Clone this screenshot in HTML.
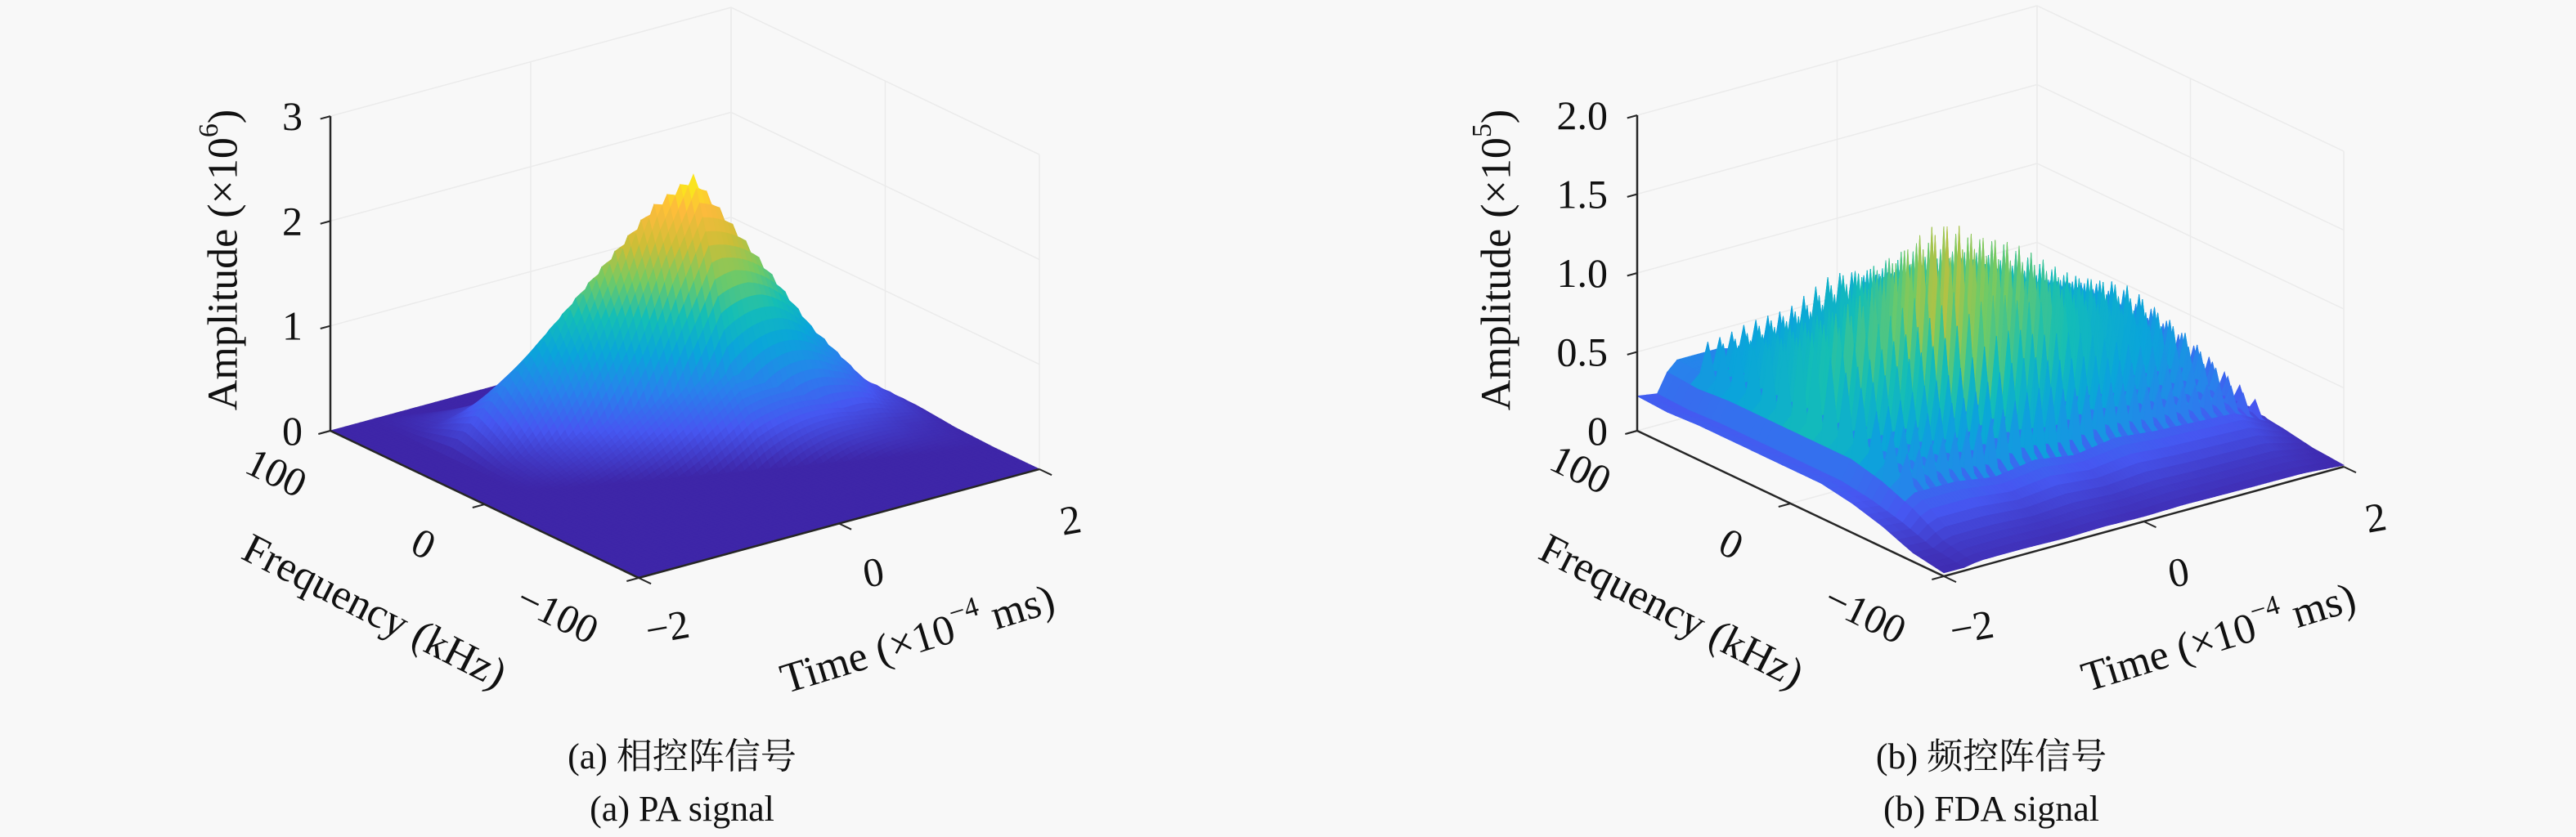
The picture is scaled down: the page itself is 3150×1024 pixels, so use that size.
<!DOCTYPE html>
<html><head><meta charset="utf-8"><style>
html,body{margin:0;padding:0;background:#f8f8f8;}
svg{display:block;}
text{font-family:"Liberation Serif","DejaVu Serif","Noto Serif CJK SC",serif;}
</style></head><body>
<svg id="fig" width="3150" height="1024" viewBox="0 0 3150 1024" xmlns="http://www.w3.org/2000/svg" font-family="Liberation Serif, DejaVu Serif, Noto Serif CJK SC, serif">
<rect x="0" y="0" width="3150" height="1024" fill="#f8f8f8"/>
<g id="panelA"></g>
<g id="panelB"></g>
<text x="834" y="940" font-size="44" text-anchor="middle" fill="#111">(a) 相控阵信号</text>
<text x="834" y="1004" font-size="44" text-anchor="middle" fill="#111">(a) PA signal</text>
<text x="2435" y="940" font-size="44" text-anchor="middle" fill="#111">(b) 频控阵信号</text>
<text x="2435" y="1004" font-size="44" text-anchor="middle" fill="#111">(b) FDA signal</text>
</svg>
<script>
// ---- PA data (amplitude ×10^6) ----
const paTimes = [-2, -1.6, -1.2, -0.8, -0.4, 0, 0.3, 0.8, 1.2, 1.6, 2];
const paTimeProfile = [0, 0, 0.55, 1.1, 1.65, 2.2, 2.45, 1.6, 0.9, 0.35, 0.05];
const paFreqOffsets = [-50, -25, -10, 0, 10, 25, 50];
const paFreqProfile = [0, 0.3, 0.75, 1, 0.75, 0.3, 0];
const paRidgeCenterAt0 = 20;   // kHz
const paRidgeSlope = -20;      // kHz per time unit
// ---- FDA data (amplitude ×10^5) ----
const fdaTimes = [-2, -1.8, -1.65, -1.2, -0.8, -0.4, 0, 0.4, 0.8, 1.2, 1.6, 2];
const fdaBaseT = [0.22, 0.2, 0.38, 0.38, 0.32, 0.38, 0.32, 0.38, 0.34, 0.32, 0.3, 0.1];
const fdaFreqs = [-100, -80, -60, -40, -20, 0, 20, 40, 60, 80, 100];
const fdaBaseF = [0.1, 0.25, 0.6, 0.85, 1, 1, 1, 1, 1, 0.95, 1];
const fdaToothAmp = [0.5,0.52,0.55,0.6,0.65,0.7,0.75,0.8,0.85,0.9,0.95,1.0,1.0,0.95,0.9,0.85,0.8,0.75,0.7,0.65,0.6,0.55,0.5,0.48,0.45,0.42,0.4,0.35,0.3,0.25];
const fdaRowFreqs = [80, 70, 60, 50, 40, 30, 20, 10, 0, -10, -20, -30, -40, -50];
const fdaRowAmp = [0.45, 0.5, 0.55, 0.65, 0.75, 0.85, 1.0, 1.05, 0.95, 0.85, 0.75, 0.6, 0.5, 0.4];
const fdaToothStart = -1.6, fdaToothEnd = 2;
const toothShape = [1, 0.1, 0, 0.1];
// ---- axis ticks ----
const freqTicks = [100, 0, -100];
const freqTickLabels = ["100", "0", "\u2212100"];
const timeTicks = [-2, 0, 2];
const timeTickLabels = ["\u22122", "0", "2"];
const paZTicks = [0, 1, 2, 3];
const paZTickLabels = ["0", "1", "2", "3"];
const fdaZTicks = [0, 0.5, 1.0, 1.5, 2.0];
const fdaZTickLabels = ["0", "0.5", "1.0", "1.5", "2.0"];

const NS = "http://www.w3.org/2000/svg";
const FONT = "Liberation Serif, DejaVu Serif, Noto Serif CJK SC, serif";
function interp(xs, ys, x){
  if (x <= xs[0]) return ys[0];
  for (let i=1;i<xs.length;i++){ if (x <= xs[i]) { const r=(x-xs[i-1])/(xs[i]-xs[i-1]); return ys[i-1]+r*(ys[i]-ys[i-1]); } }
  return ys[ys.length-1];
}
const PAR = [[0,[62,38,168]],[0.13,[70,87,241]],[0.25,[40,130,236]],[0.375,[10,165,218]],[0.5,[20,190,182]],[0.625,[115,202,100]],[0.75,[205,190,55]],[0.875,[253,187,60]],[1,[249,251,14]]];
function parula(x){
  x=Math.max(0,Math.min(1,x));
  for(let i=1;i<PAR.length;i++){ if(x<=PAR[i][0]){ const a=PAR[i-1],b=PAR[i]; const r=(x-a[0])/(b[0]-a[0]);
    return "rgb("+[0,1,2].map(k=>Math.round(a[1][k]+r*(b[1][k]-a[1][k]))).join(",")+")"; } }
  return "rgb(249,251,14)";
}
function mk(tag, attrs, parent){ const e=document.createElementNS(NS,tag); for(const k in attrs) e.setAttribute(k,attrs[k]); parent.appendChild(e); return e; }

function drawPanel(g, cfg){
  const P=(f,t,z)=>{ const u=(f+100)/200, v=(t+2)/4;
    return [cfg.F[0]+u*(cfg.L[0]-cfg.F[0])+v*(cfg.R[0]-cfg.F[0]), cfg.F[1]+u*(cfg.L[1]-cfg.F[1])+v*(cfg.R[1]-cfg.F[1])-z*cfg.zs]; };
  const line=(a,b,stroke,w,name)=>{ const l=mk("line",{x1:a[0],y1:a[1],x2:b[0],y2:b[1],stroke:stroke,"stroke-width":w},g);
    
     return l; };
  const gc="#ebebeb";
  cfg.zTicks.forEach(z=>{ line(P(100,-2,z),P(100,2,z),gc,1.5,'z-gridline'); line(P(100,2,z),P(-100,2,z),gc,1.5,'z-gridline'); });
  timeTicks.forEach(t=>{ line(P(100,t,0),P(100,t,cfg.zMax),gc,1.5,'time-gridline'); line(P(100,t,0),P(-100,t,0),gc,1.5,'time-gridline'); });
  freqTicks.forEach(f=>{ line(P(f,2,0),P(f,2,cfg.zMax),gc,1.5,'freq-gridline'); line(P(f,-2,0),P(f,2,0),gc,1.5,'freq-gridline'); });
  const ts=cfg.tGrid, fs=cfg.fGrid, Z=[];
  for(let i=0;i<fs.length;i++){ Z.push([]); for(let j=0;j<ts.length;j++) Z[i].push(cfg.zf(fs[i],ts[j])); }
  const cells=[];
  for(let i=0;i<fs.length-1;i++) for(let j=0;j<ts.length-1;j++){
    const u=(fs[i]+fs[i+1])/2, v=(ts[j]+ts[j+1])/2;
    cells.push([(u+100)/200+(v+2)/4, i, j]);
  }
  cells.sort((a,b)=>b[0]-a[0]);
  const sg=mk("g",{},g);
  
  
  let html="";
  cells.forEach(c=>{ const i=c[1], j=c[2];
    const z4=[Z[i][j],Z[i+1][j],Z[i+1][j+1],Z[i][j+1]];
    const pts=[P(fs[i],ts[j],z4[0]),P(fs[i+1],ts[j],z4[1]),P(fs[i+1],ts[j+1],z4[2]),P(fs[i],ts[j+1],z4[3])];
    const zc = (z4[0]+z4[1]+z4[2]+z4[3])/4 + (cfg.colorBoost||0)*(Math.max(...z4)-(z4[0]+z4[1]+z4[2]+z4[3])/4);
    const col=parula(zc/cfg.cmax);
    html+='<polygon points="'+pts.map(p=>p[0].toFixed(1)+","+p[1].toFixed(1)).join(" ")+'" fill="'+col+'" stroke="'+col+'" stroke-width="0.8"/>';
  });
  sg.innerHTML=html;
  const ac="#262626";
  line(P(100,-2,0),P(100,-2,cfg.zMax),ac,2.5,'z-axis-line');
  line(P(100,-2,0),P(-100,-2,0),ac,2.5,'frequency-axis-line');
  line(P(-100,-2,0),P(-100,2,0),ac,2.5,'time-axis-line');
  const txt=(x,y,s,size,anchor,rot,name)=>{ const e=mk("text",{x:x,y:y,"font-size":size,"font-family":FONT,"text-anchor":anchor,"dominant-baseline":"central",fill:"#111"},g);
    if(rot) e.setAttribute("transform","rotate("+rot+" "+x+" "+y+")");
    e.textContent=s;
    
     return e; };
  cfg.zTicks.forEach((z,k)=>{ const p=P(100,-2,z); line(p,P(100,-2.1,z),ac,2,'z-tick'); txt(cfg.zLabX,p[1],cfg.zLabels[k],50,"end",0,'z-tick-label'); });
  freqTicks.forEach((f,k)=>{ const p=P(f,-2,0); line(p,P(f,-2.12,0),ac,2,'freq-tick'); txt(cfg.fLab[k][0],cfg.fLab[k][1],freqTickLabels[k],50,"middle",26,'freq-tick-label'); });
  timeTicks.forEach((t,k)=>{ const p=P(-100,t,0); line(p,P(-108,t,0),ac,2,'time-tick'); txt(cfg.tLab[k][0],cfg.tLab[k][1],timeTickLabels[k],50,"middle",-10,'time-tick-label'); });
  const at=txt(cfg.ampTitle[0],cfg.ampTitle[1],"",52,"middle",-90,'z-axis-title');
  at.innerHTML='Amplitude (×10<tspan dy="-18" font-size="34">'+cfg.exp+'</tspan><tspan dy="18">)</tspan>';
  txt(cfg.fTitle[0],cfg.fTitle[1],"Frequency (kHz)",52,"middle",27,'frequency-axis-title');
  const tt=txt(cfg.tTitle[0],cfg.tTitle[1],"",52,"middle",-17,'time-axis-title');
  tt.innerHTML='Time (×10<tspan dy="-18" font-size="34">−4</tspan><tspan dy="18"> ms)</tspan>';
}
function range(a,b,n){ const r=[]; for(let i=0;i<=n;i++) r.push(a+(b-a)*i/n); return r; }

drawPanel(document.getElementById("panelA"),{
  L:[404,527], F:[781,707], R:[1271,574], zs:128.3, zMax:3, cmax:2.45,
  zTicks:paZTicks, zLabels:paZTickLabels, zLabX:370, exp:"6",
  tGrid:range(-2,2,80), fGrid:range(-100,100,100),
  zf:(f,t)=>interp(paTimes,paTimeProfile,t)*interp(paFreqOffsets,paFreqProfile,f-(paRidgeCenterAt0+paRidgeSlope*t)),
  fLab:[[338,578],[518,665],[682,751]], tLab:[[816,767],[1068,700],[1309,636]],
  ampTitle:[273,318], fTitle:[458,748], tTitle:[1122,782]
});
const fdaPer=(fdaToothEnd-fdaToothStart)/fdaToothAmp.length, fdaStep=fdaPer/toothShape.length;
const fdaT=[-2,-1.9,-1.8,-1.7];
for(let k=0;k<=fdaToothAmp.length*toothShape.length;k++) fdaT.push(fdaToothStart+k*fdaStep);
drawPanel(document.getElementById("panelB"),{
  L:[2002,527], F:[2377,705], R:[2866,571], zs:193, zMax:2.0, cmax:1.45, colorBoost:0.5,
  zTicks:fdaZTicks, zLabels:fdaZTickLabels, zLabX:1966, exp:"5",
  tGrid:fdaT, fGrid:range(-100,100,40),
  zf:(f,t)=>{ let z=interp(fdaTimes,fdaBaseT,t)*interp(fdaFreqs,fdaBaseF,f);
    if(t>=fdaToothStart-1e-9 && t<fdaToothEnd-1e-9){
      const n=Math.round((t-fdaToothStart)/fdaStep); const k=Math.floor(n/toothShape.length), ph=n%toothShape.length;
      const r=fdaRowFreqs.findIndex(rf=>Math.abs(rf-f)<1e-6);
      if(r>=0) z+=fdaToothAmp[Math.min(k,fdaToothAmp.length-1)]*fdaRowAmp[r]*toothShape[ph]; }
    return z; },
  fLab:[[1933,574],[2117,665],[2281,751]], tLab:[[2411,767],[2664,700],[2905,633]],
  ampTitle:[1830,318], fTitle:[2044,748], tTitle:[2713,780]
});
</script>
</body></html>
